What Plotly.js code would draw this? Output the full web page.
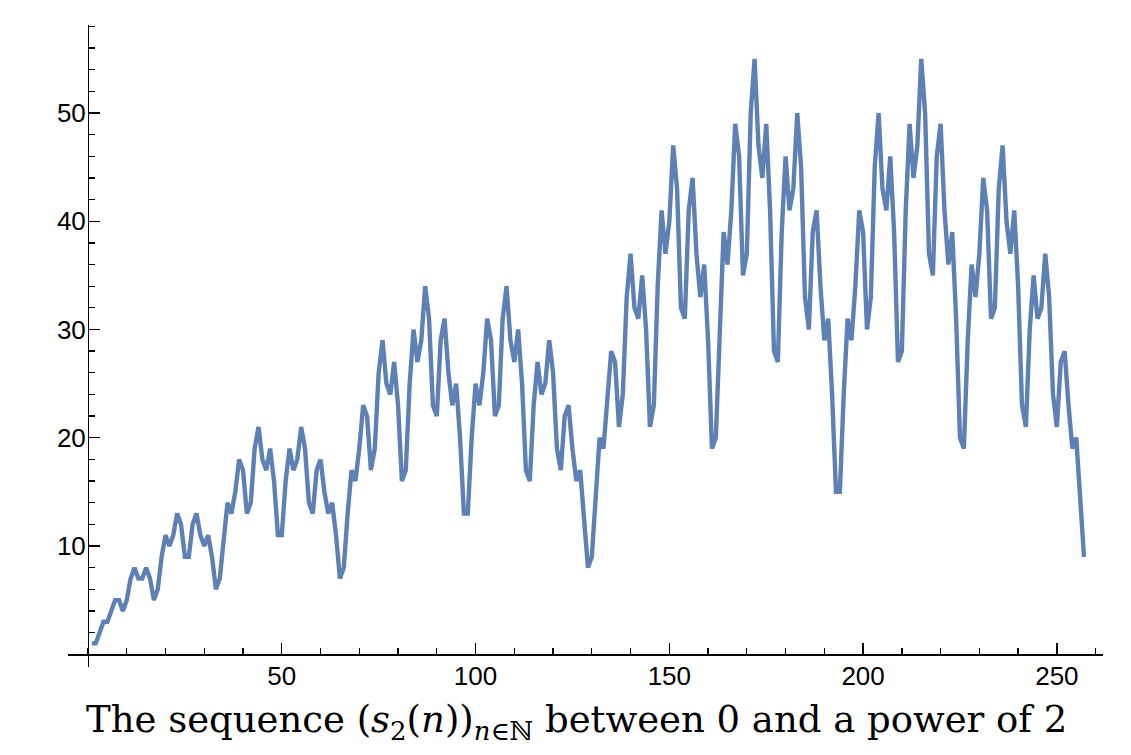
<!DOCTYPE html>
<html>
<head>
<meta charset="utf-8">
<script src="https://cdn.plot.ly/plotly-3.0.1.min.js"></script>
<style>html,body{margin:0;padding:0;background:#fff;}</style>
</head>
<body>
<div id="chart" style="width:1131px;height:755px;"></div>
<script>
// s2(n) for n = 0..16
const s2_n0to16 = [1,1,2,3,3,4,5,5,4,5,7,8,7,7,8,7,5];
// n = 17..32
const s2_n17to32 = [6,9,11,10,11,13,12,9,9,12,13,11,10,11,9,6];
// n = 33..64
const s2_n33to64 = [7,11,14,13,15,18,17,13,14,19,21,18,17,19,16,11,
                    11,16,19,17,18,21,19,14,13,17,18,15,13,14,11,7];
// n = 65..128
const s2_n65to128 = [8,13,17,16,19,23,22,17,19,26,29,25,24,27,23,16,
                     17,25,30,27,29,34,31,23,22,29,31,26,23,25,20,13,
                     13,20,25,23,26,31,29,22,23,31,34,29,27,30,25,17,
                     16,23,27,24,25,29,26,19,17,22,23,19,16,17,13,8];
// n = 129..256
const s2_n129to256 = [9,15,20,19,23,28,27,21,24,33,37,32,31,35,30,21,
                      23,34,41,37,40,47,43,32,31,41,44,37,33,36,29,19,
                      20,31,39,36,41,49,46,35,37,50,55,47,44,49,41,28,
                      27,39,46,41,43,50,45,33,30,39,41,34,29,31,24,15,
                      15,24,31,29,34,41,39,30,33,45,50,43,41,46,39,27,
                      28,41,49,44,47,55,50,37,35,46,49,41,36,39,31,20,
                      19,29,36,33,37,44,41,31,32,43,47,40,37,41,34,23,
                      21,30,35,31,32,37,33,24,21,27,28,23,19,20,15,9];

const xTickVals = [50,100,150,200,250];
const xTickText = ["50","100","150","200","250"];
const yTickVals = [10,20,30,40,50];
const yTickText = ["10","20","30","40","50"];
const titleText = "The sequence (<i>s</i><sub>2</sub>(<i>n</i>))<sub><i>n</i>∈ℕ</sub> between 0 and a power of 2";

const values = [].concat(s2_n0to16, s2_n17to32, s2_n33to64, s2_n65to128, s2_n129to256);
// ListLinePlot-style positions: k-th element at x = k (1-based)
const xs = values.map((v, i) => i + 1);

const xRange = [-5.16, 261.9];
const yRange = [-1.18, 58.13];
const xAxisPos = (0 - yRange[0]) / (yRange[1] - yRange[0]);
const yAxisPos = (0 - xRange[0]) / (xRange[1] - xRange[0]);

const tickFont = {family: "Liberation Sans, Arial, sans-serif", size: 26, color: "#000"};

const trace = {
  x: xs, y: values, type: "scatter", mode: "lines",
  line: {color: "#5E81B5", width: 4.4},
  hoverinfo: "skip"
};

const layout = {
  width: 1131, height: 755,
  margin: {l: 68, r: 28, t: 25, b: 88, pad: 0},
  paper_bgcolor: "#fff", plot_bgcolor: "#fff",
  showlegend: false,
  xaxis: {
    range: xRange, showgrid: false, zeroline: false,
    showline: true, linecolor: "#000", linewidth: 1.4,
    anchor: "free", position: xAxisPos,
    ticks: "inside", ticklen: 11, tickwidth: 1.3, tickcolor: "#000",
    tickmode: "array", tickvals: xTickVals, ticktext: xTickText,
    ticklabelstandoff: -2,
    minor: {tickmode: "linear", tick0: 0, dtick: 10, ticks: "inside", ticklen: 6, tickwidth: 1.3, tickcolor: "#000", showgrid: false},
    tickfont: tickFont
  },
  yaxis: {
    range: yRange, showgrid: false, zeroline: false,
    showline: true, linecolor: "#000", linewidth: 1.4,
    anchor: "free", position: yAxisPos,
    ticks: "inside", ticklen: 11, tickwidth: 1.3, tickcolor: "#000",
    tickmode: "array", tickvals: yTickVals, ticktext: yTickText,
    ticklabelstandoff: -3,
    minor: {tickmode: "linear", tick0: 0, dtick: 2, ticks: "inside", ticklen: 6, tickwidth: 1.3, tickcolor: "#000", showgrid: false},
    tickfont: tickFont
  },
  annotations: [{
    text: titleText, xref: "paper", yref: "paper",
    x: 0.491, y: -0.0857, xanchor: "center", yanchor: "middle",
    showarrow: false,
    font: {family: "DejaVu Serif, Liberation Serif, serif", size: 37, color: "#000"}
  }]
};

Plotly.newPlot("chart", [trace], layout, {displayModeBar: false, staticPlot: true});
</script>
</body>
</html>
